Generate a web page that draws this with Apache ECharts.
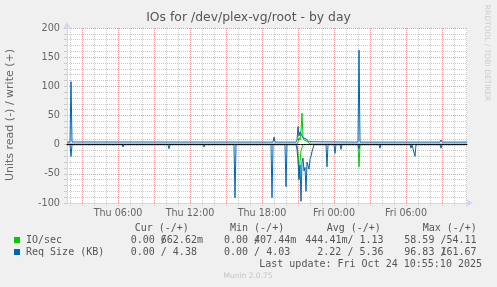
<!DOCTYPE html>
<html><head><meta charset="utf-8">
<script src="https://cdn.jsdelivr.net/npm/echarts@6/dist/echarts.min.js"></script>
<style>html,body{margin:0;padding:0;background:#f0f0f0}#c{width:497px;height:287px}</style>
</head><body><div id="c"></div>
<script>
// time is expressed in minutes since Thu 00:00 (5-minute samples)
const timeStart = 105, timeEnd = 2105;
const xTickMinutes = [360, 720, 1080, 1440, 1800];
const xTickLabels = ['Thu 06:00', 'Thu 12:00', 'Thu 18:00', 'Fri 00:00', 'Fri 06:00'];
const yMin = -100, yMax = 200;
const yLabelStep = 50;

// IO/sec read (drawn negative) and write (positive)
const ioRead = [[105,0],[120,0],[125,-3],[130,0],[1255,0],[1260,-15],[1265,-58],[1270,-30],[1275,-10],[1280,-5],[1285,0],[1560,0],[1565,-38],[1570,0],[2105,0]];
const ioWrite = [[105,1.1],[120,1.1],[125,4],[130,1.1],[1255,1.1],[1260,5],[1265,12],[1270,8],[1275,23],[1280,54],[1285,12],[1290,8],[1295,7],[1300,9],[1305,6],[1310,8],[1315,3],[1320,1.1],[2105,1.1]];
// Req Size (KB) read (drawn negative) and write (positive)
const reqRead = [[105,0],[120,0],[125,-20],[130,0],[380,0],[385,-4],[390,0],[610,0],[615,-7],[620,0],[785,0],[790,-4],[795,0],[940,0],[945,-91],[950,0],[1125,0],[1130,-91],[1135,0],[1195,0],[1200,-72],[1205,0],[1250,0],[1255,-8],[1260,-25],[1265,-60],[1270,-35],[1275,-97],[1280,-30],[1285,-23],[1290,-45],[1295,-39],[1300,-80],[1305,-30],[1310,-27],[1315,-42],[1320,-25],[1325,-20],[1330,-12],[1335,-9],[1340,0],[1400,0],[1405,-38],[1410,0],[1440,0],[1445,-15],[1450,0],[1470,0],[1475,-8],[1480,0],[1560,0],[1565,-7],[1570,0],[1665,0],[1670,-6],[1675,0],[1820,0],[1825,-6],[1830,0],[1840,0],[1845,-20],[1850,0],[1970,0],[1975,-6],[1980,0],[2105,0]];
const reqWrite = [[105,4.4],[120,4.4],[125,108],[130,4.6],[1135,4.4],[1140,13],[1145,4.4],[1250,4.4],[1255,8],[1260,31],[1265,15],[1270,22],[1275,18],[1280,20],[1285,12],[1290,15],[1295,9],[1300,10],[1305,7],[1310,8],[1315,5],[1320,4.4],[1560,4.4],[1565,162],[1570,4.4],[1970,4.4],[1975,8],[1980,4.4],[2105,4.4]];

const seriesNames = ['IO/sec', 'Req Size (KB)'];
const seriesColors = ['#00cc00', '#0066b3'];
const statHeaders = ['Cur (-/+)', 'Min (-/+)', 'Avg (-/+)', 'Max (-/+)'];
const statRows = [
  ['0.00 662.62m', '0.00 407.44m', '444.41m/ 1.13', '58.59 /54.11'],
  ['0.00 / 4.38', '0.00 / 4.03', '2.22 / 5.36', '96.83 161.67']
];
const lastUpdate = 'Last update: Fri Oct 24 10:55:10 2025';
const chartTitle = 'IOs for /dev/plex-vg/root - by day';
const yName = 'Units read (-) / write (+)';

const hourTicks = [], majorTicks = [];
for (let m = 120; m <= 2100; m += 60) hourTicks.push(m);
for (let m = 180; m <= 2100; m += 180) majorTicks.push(m);

const AXIS = '#cfd6f8', GRIDC = '#cacaca', MGRID = '#ee9a9a', FONT = '#666666';
const chart = echarts.init(document.getElementById('c'), null, {renderer: 'canvas'});

const mono = 'DejaVu Sans Mono';
const CW = 6.02;
const graphics = [];
graphics.push({type:'text', left:'center', top: 12, style:{text: chartTitle, font: '12.4px "DejaVu Sans"', fill: '#555'}});
graphics.push({type:'text', x: 10, y: 115, rotation: Math.PI/2, style:{text: yName, font:'11px "DejaVu Sans"', fill: FONT, align:'center', verticalAlign:'middle'}});
graphics.push({type:'text', x: 487, y: 53, rotation: -Math.PI/2, style:{text: 'RRDTOOL / TOBI OETIKER', font:'7.5px "DejaVu Sans"', fill:'#cccccc', align:'center', verticalAlign:'middle'}});
const colX = [134.7, 230, 326.7, 422.7];
statHeaders.forEach((h, i) => graphics.push({type:'text', x: colX[i], y: 228, style:{text: h, font:'10px "'+mono+'"', fill:'#555', verticalAlign:'middle'}}));
// left edges of the value columns, per row
const colLeft = [[130.7, 224, 305.3, 404.3], [130.7, 224, 317.3, 404.3]];
seriesNames.forEach((n, r) => {
  const y = 240 + r * 12;
  graphics.push({type:'rect', shape:{x:14, y:y-3, width:6, height:6}, style:{fill: seriesColors[r]}});
  graphics.push({type:'text', x: 26, y: y, style:{text: n, font:'10px "'+mono+'"', fill:'#555', verticalAlign:'middle'}});
  statRows[r].forEach((t, c) => {
    graphics.push({type:'text', x: colLeft[r][c], y: y, style:{text: t, font:'10px "'+mono+'"', fill:'#555', verticalAlign:'middle'}});
  });
});
// overlapping slashes, as in the source rendering
[[colLeft[0][0] + 5*CW, 240], [colLeft[0][1] + 5*CW, 240], [colLeft[1][3] + 6*CW, 252]].forEach(p =>
  graphics.push({type:'text', x: p[0], y: p[1], style:{text:'/', font:'10px "'+mono+'"', fill:'#555', verticalAlign:'middle'}}));
graphics.push({type:'text', x: 482, y: 264, style:{text: lastUpdate, font:'10px "'+mono+'"', fill:'#555', align:'right', verticalAlign:'middle'}});
graphics.push({type:'text', x: 248, y: 276, style:{text: 'Munin 2.0.75', font:'7.5px "DejaVu Sans"', fill:'#c4c4c4', align:'center', verticalAlign:'middle'}});

const gridLine = (c) => ({show:true, lineStyle:{color:c, type:[1,1], width:1}});
chart.setOption({
  animation: false,
  backgroundColor: '#f0f0f0',
  grid: {left: 67, top: 28, width: 400, height: 175, backgroundColor: '#ffffff', show: true, borderWidth: 0},
  xAxis: [
    {type:'value', min: timeStart, max: timeEnd, position:'bottom',
     axisLine:{onZero:false, lineStyle:{color:AXIS, width:1}, symbol:['none','arrow'], symbolSize:[6,7], symbolOffset:[0,6]},
     axisTick:{show:true, length:3, customValues: hourTicks, lineStyle:{color:GRIDC, type:[1,1]}},
     splitLine: gridLine(GRIDC),
     axisLabel:{customValues: xTickMinutes, margin:5, color: FONT, fontSize: 9.6, fontFamily:'DejaVu Sans',
       formatter: v => { const i = xTickMinutes.indexOf(v); return i >= 0 ? xTickLabels[i] : ''; }}},
    {type:'value', min: timeStart, max: timeEnd,
     axisLine:{show:false}, axisLabel:{show:false},
     axisTick:{show:true, length:0, customValues: majorTicks},
     splitLine: gridLine(MGRID)},
    {type:'value', min: timeStart, max: timeEnd, z: 10,
     axisLine:{show:true, onZero:true, onZeroAxisIndex:0, lineStyle:{color:'#000', width:1, type:[2,1]}},
     axisLabel:{show:false}, axisTick:{show:false}, splitLine:{show:false}}
  ],
  yAxis: [
    {type:'value', min:yMin, max:yMax, interval:10,
     axisLine:{show:true, onZero:false, lineStyle:{color:AXIS, width:1}, symbol:['none','arrow'], symbolSize:[6,7], symbolOffset:[0,6]},
     axisTick:{show:true, length:3, lineStyle:{color:GRIDC}},
     splitLine: gridLine(GRIDC),
     axisLabel:{margin:7, color: FONT, fontSize: 9.7, fontFamily:'DejaVu Sans',
       formatter: v => (v % yLabelStep === 0 ? String(v) : '')}},
    {type:'value', min:yMin, max:yMax, interval:yLabelStep,
     axisLine:{show:false}, axisLabel:{show:false}, axisTick:{show:false},
     splitLine: gridLine(MGRID)}
  ],
  series: [
    {name:'IO/sec read', type:'line', data: ioRead, xAxisIndex:0, yAxisIndex:0, showSymbol:false, lineStyle:{color:seriesColors[0], width:1}, itemStyle:{color:seriesColors[0]}},
    {name:'IO/sec write', type:'line', data: ioWrite, xAxisIndex:0, yAxisIndex:0, showSymbol:false, lineStyle:{color:seriesColors[0], width:1}, itemStyle:{color:seriesColors[0]}},
    {name:'Req Size read', type:'line', data: reqRead, xAxisIndex:0, yAxisIndex:0, showSymbol:false, lineStyle:{color:seriesColors[1], width:1}, itemStyle:{color:seriesColors[1]}},
    {name:'Req Size write', type:'line', data: reqWrite, xAxisIndex:0, yAxisIndex:0, showSymbol:false, lineStyle:{color:seriesColors[1], width:1}, itemStyle:{color:seriesColors[1]}}
  ],
  graphic: graphics
});
</script></body></html>
